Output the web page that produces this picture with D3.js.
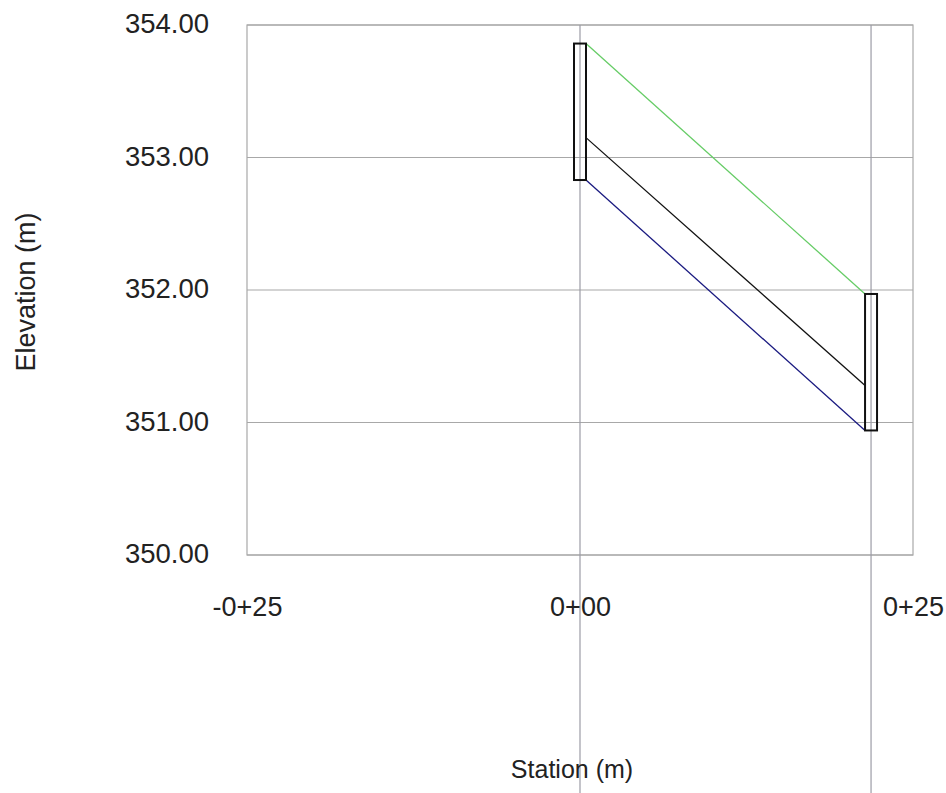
<!DOCTYPE html>
<html>
<head>
<meta charset="utf-8">
<script src="https://cdn.jsdelivr.net/npm/d3@7"></script>
<style>
  html, body { margin: 0; padding: 0; background: #ffffff; }
  svg { display: block; }
  text { font-family: "Liberation Sans", Arial, sans-serif; fill: #222; }
</style>
</head>
<body>
<svg id="chart" width="946" height="793"></svg>
<script>
// ---- data ----
const stationTicks = [-25, 0, 25];
const stationTickLabels = ["-0+25", "0+00", "0+25"];
const elevTicks = [350, 351, 352, 353, 354];
const elevTickLabels = ["350.00", "351.00", "352.00", "353.00", "354.00"];

// structures (manholes): station, rim elevation, bottom elevation, width (m)
const structStations = [0, 21.85];
const structTops = [353.86, 351.97];
const structBottoms = [352.83, 350.94];
const structWidth = 0.9;

// pipe / profile lines: [start, end]
const lineStations = [0.45, 21.4];
const groundElev = [353.86, 351.97];   // green
const crownElev = [353.15, 351.28];    // black
const invertElev = [352.83, 350.94];   // blue

// ---- layout ----
const svg = d3.select("#chart");
const mLeft = 247, mRight = 913, mTop = 25, mBottom = 555;

const x = d3.scaleLinear().domain([-25, 25]).range([mLeft, mRight]);
const y = d3.scaleLinear().domain([350, 354]).range([mBottom, mTop]);

// horizontal grid
svg.append("g")
  .selectAll("line")
  .data(elevTicks)
  .join("line")
  .attr("x1", mLeft).attr("x2", mRight)
  .attr("y1", d => y(d)).attr("y2", d => y(d))
  .attr("stroke", "#a8a8a8").attr("stroke-width", 1.2);

// frame
svg.append("rect")
  .attr("x", mLeft).attr("y", mTop)
  .attr("width", mRight - mLeft).attr("height", mBottom - mTop)
  .attr("fill", "none").attr("stroke", "#a8a8a8").attr("stroke-width", 1.2);

// structure vertical lines (extend to bottom of image)
svg.append("g")
  .selectAll("line")
  .data(structStations)
  .join("line")
  .attr("x1", d => x(d)).attr("x2", d => x(d))
  .attr("y1", mTop).attr("y2", 793)
  .attr("stroke", "#9c9ca6").attr("stroke-width", 1.2);

// y tick labels
const yAxis = d3.axisLeft(y).tickValues(elevTicks)
  .tickFormat((d, i) => elevTickLabels[i]).tickSize(0).tickPadding(0);
const yg = svg.append("g").attr("transform", `translate(${mLeft - 38},-1)`).call(yAxis);
yg.select(".domain").remove();
yg.selectAll("text").attr("font-size", 27.5).attr("fill", "#222")
  .attr("font-family", "Liberation Sans, Arial, sans-serif");

// x tick labels
const xAxis = d3.axisBottom(x).tickValues(stationTicks)
  .tickFormat((d, i) => stationTickLabels[i]).tickSize(0).tickPadding(0);
const xg = svg.append("g").attr("transform", `translate(0,${mBottom + 42})`).call(xAxis);
xg.select(".domain").remove();
xg.selectAll("text").attr("font-size", 27).attr("fill", "#222")
  .attr("font-family", "Liberation Sans, Arial, sans-serif");

// profile lines
const lineData = [
  { elev: groundElev, color: "#66cc66" },
  { elev: crownElev, color: "#111111" },
  { elev: invertElev, color: "#1a1a80" }
];
const lineGen = d3.line().x(d => x(d[0])).y(d => y(d[1]));
svg.append("g")
  .selectAll("path")
  .data(lineData)
  .join("path")
  .attr("d", d => lineGen(lineStations.map((s, i) => [s, d.elev[i]])))
  .attr("fill", "none")
  .attr("stroke", d => d.color)
  .attr("stroke-width", 1.3);

// structures
svg.append("g")
  .selectAll("rect")
  .data(structStations)
  .join("rect")
  .attr("x", d => x(d - structWidth / 2))
  .attr("width", d => x(d + structWidth / 2) - x(d - structWidth / 2))
  .attr("y", (d, i) => y(structTops[i]))
  .attr("height", (d, i) => y(structBottoms[i]) - y(structTops[i]))
  .attr("fill", "none").attr("stroke", "#111").attr("stroke-width", 2);

// axis titles
svg.append("text")
  .attr("transform", `translate(35,292) rotate(-90)`)
  .attr("text-anchor", "middle")
  .attr("font-size", 27)
  .text("Elevation (m)");

svg.append("text")
  .attr("x", 572).attr("y", 778)
  .attr("text-anchor", "middle")
  .attr("font-size", 25)
  .text("Station (m)");
</script>
</body>
</html>
